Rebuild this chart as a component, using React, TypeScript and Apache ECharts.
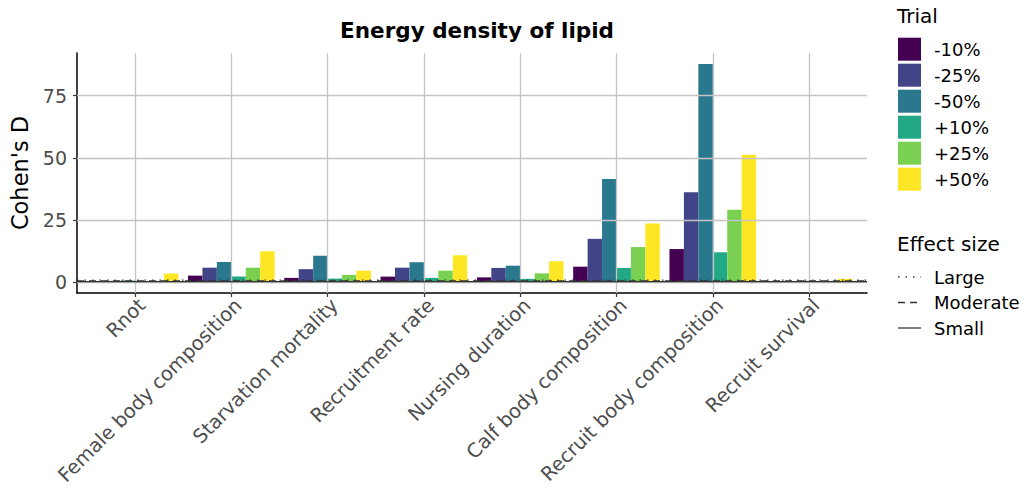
import React, { useEffect, useRef } from 'react';
import * as echarts from 'echarts';

const categories = [
  'Rnot',
  'Female body composition',
  'Starvation mortality',
  'Recruitment rate',
  'Nursing duration',
  'Calf body composition',
  'Recruit body composition',
  'Recruit survival',
];
const trials = ['-10%', '-25%', '-50%', '+10%', '+25%', '+50%'];
const trialColors = ['#440154', '#414487', '#2A788E', '#22A884', '#7AD151', '#FDE725'];

const minus10 = [0.4, 2.6, 1.7, 2.2, 1.9, 6.2, 13.3, 0.3];
const minus25 = [0.5, 5.8, 5.2, 5.8, 5.7, 17.4, 36.2, 0.4];
const minus50 = [0.6, 8.1, 10.6, 8.0, 6.6, 41.5, 87.8, 0.5];
const plus10 = [0.3, 2.3, 1.4, 1.7, 1.3, 5.7, 12.0, 0.3];
const plus25 = [0.5, 5.8, 2.9, 4.6, 3.5, 14.1, 29.1, 0.5];
const plus50 = [3.5, 12.4, 4.6, 10.8, 8.4, 23.6, 51.2, 1.3];
const trialValues = [minus10, minus25, minus50, plus10, plus25, plus50];

const effectNames = ['Large', 'Moderate', 'Small'];
const effectValues = [0.8, 0.5, 0.2];
const effectDash: any[] = [[1.5, 6], [7, 5], null];

const yTicks = [0, 25, 50, 75];

export default function App() {
  const ref = useRef<HTMLDivElement>(null);
  useEffect(() => {
    const chart = echarts.init(ref.current!, null, { renderer: 'svg' });
    const FONT = 'DejaVu Sans';
    const allVals = trialValues.flat();
    const dMax = Math.max(...allVals);
    const yMax = dMax * 1.05;
    const yMin = -dMax * 0.05;

    const effectLegend: any[] = [
      { type: 'text', x: 897, y: 244, style: { text: 'Effect size', fontSize: 20, fontFamily: FONT, fill: '#000', textVerticalAlign: 'middle' } },
    ];
    effectNames.forEach((n, i) => {
      const yy = 277 + i * 25.5;
      effectLegend.push({
        type: 'line',
        shape: { x1: 898, y1: yy, x2: 921, y2: yy },
        style: { stroke: '#333', lineWidth: 1.3, lineDash: effectDash[i] || undefined },
      });
      effectLegend.push({
        type: 'text', x: 934, y: yy,
        style: { text: n, fontSize: 18, fontFamily: FONT, fill: '#000', textVerticalAlign: 'middle' },
      });
    });

    const option: any = {
      animation: false,
      textStyle: { fontFamily: FONT },
      title: {
        text: 'Energy density of lipid',
        left: 472,
        top: 14,
        textAlign: 'center',
        textStyle: { fontFamily: FONT, fontSize: 21.5, fontWeight: 'bold', color: '#000' },
      },
      grid: [
        { left: 77, right: 166, top: 53, bottom: 200, outerBoundsMode: 'none', containLabel: false },
        { left: 86.85, right: 175.75, top: 53, bottom: 200, outerBoundsMode: 'none', containLabel: false },
      ],
      xAxis: [
        {
          type: 'value', gridIndex: 0, min: 0, max: 1,
          axisLine: { show: true, onZero: false, lineStyle: { color: '#000', width: 1.5 } },
          axisTick: { show: false }, axisLabel: { show: false }, splitLine: { show: false },
        },
        {
          type: 'category', gridIndex: 1, data: categories,
          axisLine: { show: false, onZero: false },
          axisTick: { show: true, alignWithLabel: true, length: 4, lineStyle: { color: '#333', width: 1.2 } },
          axisLabel: {
            rotate: 45, interval: 0, fontSize: 19.5, color: '#4D4D4D', margin: 2,
            align: 'right', verticalAlign: 'top', fontFamily: FONT,
          },
          splitLine: { show: false },
        },
      ],
      yAxis: [
        {
          type: 'value', gridIndex: 0, min: yMin, max: yMax,
          name: "Cohen's D", nameLocation: 'middle', nameGap: 30,
          nameTextStyle: { fontSize: 22.5, color: '#000', fontFamily: FONT },
          axisLine: { show: true, onZero: false, lineStyle: { color: '#000', width: 1.5 } },
          axisTick: { show: true, length: 4, customValues: yTicks, lineStyle: { color: '#333', width: 1.2 } },
          axisLabel: { customValues: yTicks, fontSize: 19, color: '#4D4D4D', margin: 10, fontFamily: FONT },
          splitLine: { show: false },
        },
        { type: 'value', gridIndex: 1, min: yMin, max: yMax, show: false, splitLine: { show: false } },
      ],
      legend: [
        {
          data: trials, orient: 'vertical', left: 898, top: 37.7, padding: 0,
          itemWidth: 23, itemHeight: 23, itemGap: 3, icon: 'rect', selectedMode: false,
          textStyle: { fontSize: 18, color: '#000', fontFamily: FONT, padding: [0, 0, 0, 8] },
        },
      ],
      graphic: [
        { type: 'text', x: 897, y: 16, style: { text: 'Trial', fontSize: 20, fontFamily: FONT, fill: '#000', textVerticalAlign: 'middle' } },
        ...effectLegend,
      ],
      series: [
        {
          type: 'line', name: 'hgrid', xAxisIndex: 0, yAxisIndex: 0, data: [], z: 1, silent: true,
          markLine: {
            symbol: 'none', silent: true, label: { show: false },
            lineStyle: { color: '#C4C4C4', width: 1.3, type: 'solid' },
            data: yTicks.map((v) => ({ yAxis: v })),
          },
        },
        {
          type: 'line', name: 'vgrid', xAxisIndex: 1, yAxisIndex: 1, data: [], z: 1, silent: true,
          markLine: {
            symbol: 'none', silent: true, label: { show: false },
            lineStyle: { color: '#C4C4C4', width: 1.3, type: 'solid' },
            data: categories.map((c) => ({ xAxis: c })),
          },
        },
        ...trials.map((t, i) => ({
          type: 'bar', name: t, xAxisIndex: 1, yAxisIndex: 1, data: trialValues[i],
          barGap: '0%', barCategoryGap: '10%', z: 2,
          itemStyle: { color: trialColors[i] },
        })),
        ...effectNames.map((n, i) => ({
          type: 'line', name: n, xAxisIndex: 0, yAxisIndex: 0,
          data: [[0, effectValues[i]], [1, effectValues[i]]],
          symbol: 'none', z: 5, silent: true,
          lineStyle: { color: '#333', width: 1.2, type: effectDash[i] || 'solid' },
          itemStyle: { color: '#333' },
        })),
      ],
    };
    chart.setOption(option);
    return () => chart.dispose();
  }, []);
  return (
    <div
      ref={ref}
      style={{ position: 'absolute', left: 0, top: 0, width: 1033, height: 493 }}
    />
  );
}
